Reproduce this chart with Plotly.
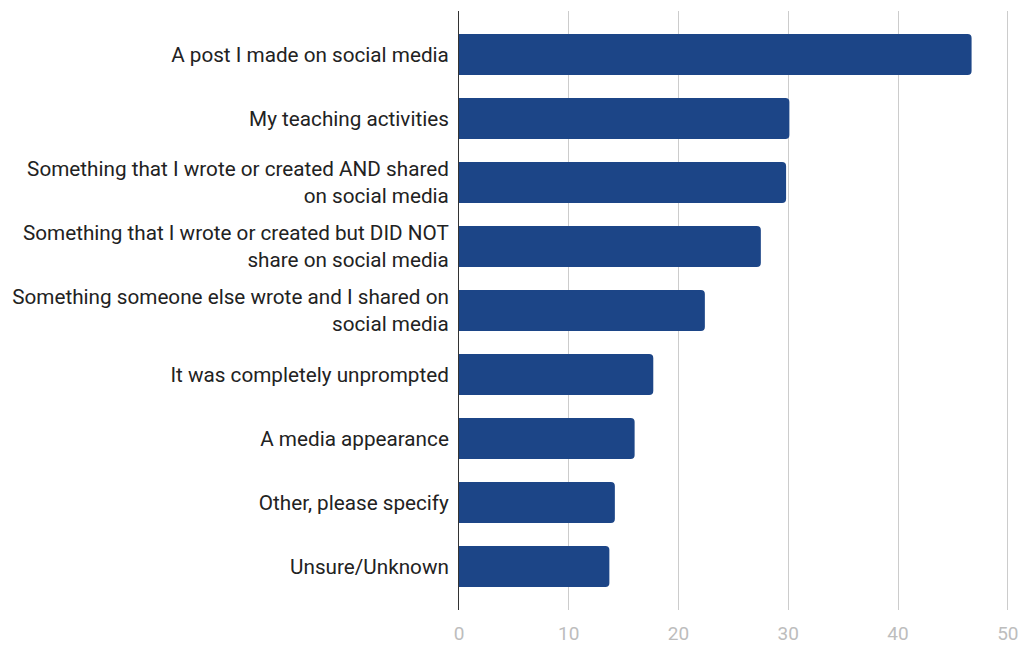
import plotly.graph_objects as go

categories = [
    "A post I made on social media",
    "My teaching activities",
    "Something that I wrote or created AND shared<br>on social media",
    "Something that I wrote or created but DID NOT<br>share on social media",
    "Something someone else wrote and I shared on<br>social media",
    "It was completely unprompted",
    "A media appearance",
    "Other, please specify",
    "Unsure/Unknown",
]
values = [46.7, 30.1, 29.8, 27.5, 22.4, 17.7, 16.0, 14.2, 13.7]
x_ticks = [0, 10, 20, 30, 40, 50]

fig = go.Figure(
    go.Bar(
        x=values,
        y=categories,
        orientation="h",
        marker=dict(color="#1c4587", line=dict(width=0)),
    )
)

fig.update_layout(
    width=1022,
    height=647,
    margin=dict(l=459, r=12, t=11, b=37, autoexpand=False),
    plot_bgcolor="white",
    paper_bgcolor="white",
    bargap=0.36,
    barcornerradius=4,
    showlegend=False,
    font=dict(family="Roboto", size=20.7, color="#222222"),
)
fig.update_xaxes(
    range=[0, 50.2],
    tickvals=x_ticks,
    showgrid=True,
    gridcolor="#cccccc",
    gridwidth=1,
    zeroline=False,
    showline=False,
    ticks="",
    ticklabelstandoff=10,
    tickfont=dict(family="Roboto", size=19, color="#bdbdbd"),
)
fig.update_yaxes(
    range=[8.68, -0.68],
    showgrid=False,
    zeroline=False,
    showline=True,
    linecolor="#333333",
    linewidth=1,
    ticks="",
    ticklabelstandoff=5,
    tickfont=dict(family="Roboto", size=20.7, color="#222222"),
)

fig.write_html(
    "out.html",
    config={"displayModeBar": False},
    post_script="document.body.style.margin='0px';document.body.style.overflow='hidden';",
)
